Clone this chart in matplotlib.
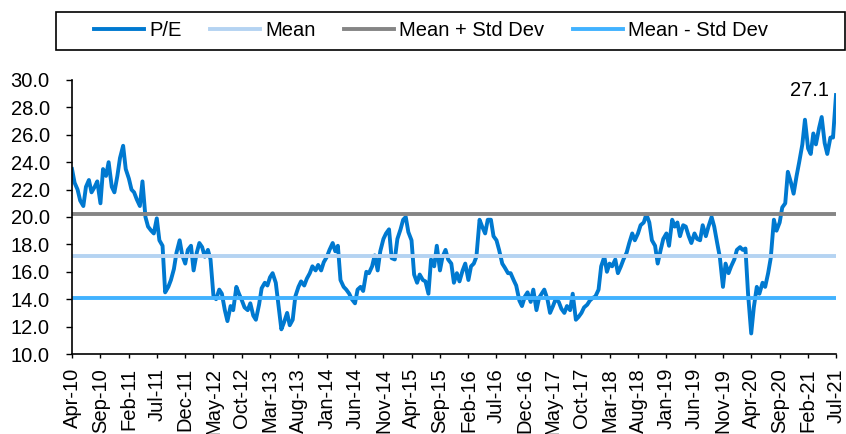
import matplotlib
matplotlib.use('Agg')
import matplotlib.pyplot as plt
import matplotlib.dates as mdates
from matplotlib.patches import Rectangle
from matplotlib.ticker import FormatStrFormatter
import numpy as np
import pandas as pd

plt.rcParams['font.family'] = ['Liberation Sans', 'DejaVu Sans']

# P/E readings, 1st and 15th of each month, Apr-10 .. Jul-21
pe = [
    23.5, 22.5, 22.0, 21.2, 20.8, 22.2, 22.7, 21.8, 22.2, 22.6, 21.0, 23.5,
    23.0, 24.0, 22.2, 21.8, 23.0, 24.3, 25.2, 23.5, 22.8, 22.0, 21.8, 21.3,
    20.8, 22.6, 20.0, 19.3, 19.0, 18.8, 19.9, 18.3, 17.9, 14.5, 14.9, 15.4,
    16.2, 17.4, 18.3, 17.2, 16.6, 17.6, 17.9, 16.1, 17.4, 18.1, 17.8, 17.1,
    17.6, 16.9, 14.2, 14.0, 14.7, 14.4, 13.2, 12.4, 13.5, 13.2, 14.9, 14.4,
    13.9, 13.4, 13.2, 13.7, 12.8, 12.5, 13.6, 14.8, 15.2, 15.0, 15.6, 15.9,
    15.2, 13.6, 11.8, 12.3, 13.0, 12.1, 12.5, 14.2, 14.9, 15.3, 15.0, 15.5,
    15.9, 16.4, 16.1, 16.5, 16.1, 16.7, 17.1, 17.6, 18.1, 17.5, 17.9, 15.4,
    14.9, 14.7, 14.4, 14.0, 13.7, 14.7, 14.9, 14.6, 16.0, 15.9, 16.4, 17.2,
    16.1, 17.5, 18.4, 18.8, 19.1, 17.0, 16.9, 18.4, 19.1, 19.8, 20.0, 18.9,
    18.3, 15.8, 15.2, 15.8, 15.4, 15.3, 14.4, 16.9, 16.4, 17.9, 16.1, 17.1,
    17.6, 16.9, 16.6, 15.2, 15.9, 15.3, 16.1, 16.6, 15.4, 16.4, 16.6, 17.1,
    19.8, 19.3, 18.8, 19.8, 19.8, 18.6, 18.3, 17.6, 16.6, 16.3, 15.9, 15.9,
    15.4, 15.0, 13.9, 13.5, 14.2, 14.5, 13.8, 14.7, 13.2, 14.1, 14.4, 14.7,
    14.0, 13.0, 13.5, 14.0, 13.8, 13.3, 13.0, 13.5, 13.2, 14.4, 12.5, 12.7,
    13.0, 13.4, 13.6, 13.9, 14.1, 14.2, 14.7, 16.4, 17.1, 16.0, 16.6, 16.4,
    16.9, 15.9, 16.4, 16.9, 17.4, 18.1, 18.8, 18.3, 18.8, 19.4, 19.6, 20.2,
    19.6, 18.3, 17.9, 16.6, 17.6, 18.4, 18.8, 17.9, 19.8, 19.3, 19.6, 18.6,
    19.4, 19.3, 18.6, 18.1, 18.8, 18.4, 18.3, 19.4, 18.6, 19.3, 20.0, 19.3,
    18.1, 17.1, 14.9, 16.6, 15.9, 16.4, 16.9, 17.6, 17.8, 17.6, 17.7, 14.4,
    11.5, 13.4, 14.9, 14.4, 15.2, 14.9, 15.9, 17.0, 19.8, 19.0, 19.6, 20.7,
    21.0, 23.3, 22.5, 21.7, 23.0, 24.0, 25.3, 27.1, 25.0, 24.6, 26.1, 25.3,
    26.5, 27.3, 25.4, 24.6, 25.8, 25.8, 28.9,
]
pe_mean = 17.15
pe_upper = 20.2   # mean + std dev
pe_lower = 14.1   # mean - std dev
last_label = '27.1'
start_date = '2010-04-01'
tick_end = '2021-07-01'

dates = pd.date_range(start_date, periods=len(pe), freq='SMS')
ticks = pd.date_range(start_date, tick_end, freq='5MS')
n = len(dates)

fs = 14.5
W, H = 846, 434
fig = plt.figure(figsize=(W / 100, H / 100), dpi=100)
ax = fig.add_axes([72 / W, 1 - 354 / H, (836 - 72) / W, (354 - 80) / H])

ax.plot(dates, pe, color='#0079D0', lw=2.8, label='P/E')
ax.plot(dates, [pe_mean] * n, color='#B4D3F2', lw=2.8, label='Mean')
ax.plot(dates, [pe_upper] * n, color='#858585', lw=2.8, label='Mean + Std Dev')
ax.plot(dates, [pe_lower] * n, color='#41B2FF', lw=2.8, label='Mean - Std Dev')

ax.annotate(last_label, xy=(dates[-1], pe[-1]), xytext=(-5, 3),
            textcoords='offset points', ha='right', va='center', fontsize=fs)

ax.set_xlim(dates[0], dates[-1])
ax.set_ylim(10, 30)
ax.set_yticks(np.arange(10, 30.1, 2))
ax.yaxis.set_major_formatter(FormatStrFormatter('%.1f'))
ax.set_xticks(ticks)
ax.xaxis.set_major_formatter(mdates.DateFormatter('%b-%y'))
plt.setp(ax.get_xticklabels(), rotation=90)
ax.tick_params(axis='x', length=3, width=1, pad=7, labelsize=fs)
ax.tick_params(axis='y', length=4, width=1, pad=12, labelsize=fs)
for s in ['top', 'right']:
    ax.spines[s].set_visible(False)
for s in ['left', 'bottom']:
    ax.spines[s].set_linewidth(1.2)

# legend without frame, box drawn separately so it can sit off-centre
fig.legend(loc='center', bbox_to_anchor=(431 / W, 1 - 31 / H), ncol=4,
           frameon=False, fontsize=fs, handlelength=2.5, handletextpad=0.25,
           columnspacing=1.4)
fig.patches.append(Rectangle((56 / W, 1 - 50 / H), 789 / W, 38 / H,
                             transform=fig.transFigure, fill=False,
                             edgecolor='black', lw=1.2))

fig.savefig('out.png', dpi=100)
